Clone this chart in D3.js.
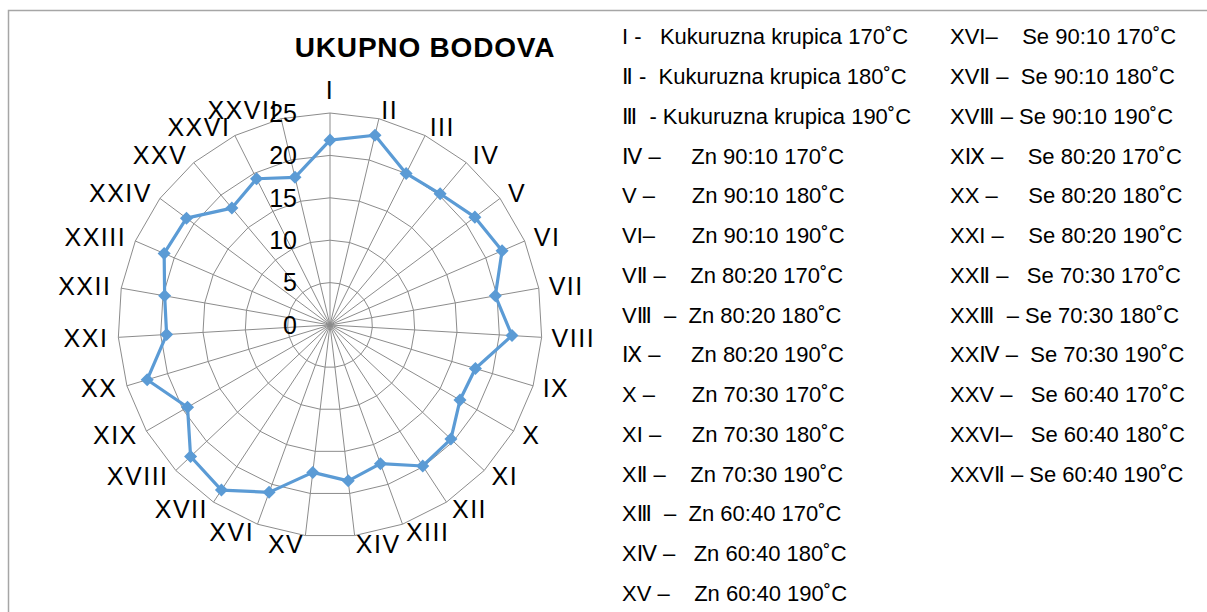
<!DOCTYPE html>
<html>
<head>
<meta charset="utf-8">
<script src="https://cdn.jsdelivr.net/npm/d3@7/dist/d3.min.js"></script>
<style>
  body { margin: 0; background: #fff; }
  svg { display: block; font-family: "Liberation Sans", Arial, "DejaVu Sans", sans-serif; }
</style>
</head>
<body>
<svg id="chart" width="1207" height="612"></svg>
<script>
// kategorije (osi radara)
const categories = ["I", "II", "III", "IV", "V", "VI", "VII", "VIII", "IX", "X",
  "XI", "XII", "XIII", "XIV", "XV", "XVI", "XVII", "XVIII", "XIX", "XX",
  "XXI", "XXII", "XXIII", "XXIV", "XXV", "XXVI", "XXVII"]
// ukupno bodova po uzorku
const values = [21.8, 23.0, 20.0, 20.2, 21.3, 22.1, 19.8, 21.5, 17.9, 17.7,
  19.6, 19.9, 17.4, 18.5, 17.5, 21.0, 23.3, 22.6, 19.4, 22.5,
  19.3, 19.8, 21.3, 21.1, 18.0, 19.3, 17.9]
const ticks = [0, 5, 10, 15, 20, 25]
const legendLeft = [
  "I -   Kukuruzna krupica 170˚C",
  "Ⅱ -  Kukuruzna krupica 180˚C",
  "Ⅲ  - Kukuruzna krupica 190˚C",
  "Ⅳ –     Zn 90:10 170˚C",
  "V –      Zn 90:10 180˚C",
  "VI–      Zn 90:10 190˚C",
  "VⅡ –    Zn 80:20 170˚C",
  "VⅢ  –  Zn 80:20 180˚C",
  "Ⅸ –     Zn 80:20 190˚C",
  "X –      Zn 70:30 170˚C",
  "XI –     Zn 70:30 180˚C",
  "XⅡ –    Zn 70:30 190˚C",
  "XⅢ  –  Zn 60:40 170˚C",
  "XⅣ –   Zn 60:40 180˚C",
  "XV –    Zn 60:40 190˚C"
]
const legendRight = [
  "XVI–    Se 90:10 170˚C",
  "XVⅡ –  Se 90:10 180˚C",
  "XVⅢ – Se 90:10 190˚C",
  "XⅨ –    Se 80:20 170˚C",
  "XX –     Se 80:20 180˚C",
  "XXI –    Se 80:20 190˚C",
  "XXⅡ –   Se 70:30 170˚C",
  "XXⅢ  – Se 70:30 180˚C",
  "XXⅣ –  Se 70:30 190˚C",
  "XXV –   Se 60:40 170˚C",
  "XXVI–   Se 60:40 180˚C",
  "XXVⅡ – Se 60:40 190˚C"
]

let svg = d3.select("#chart")
const cx = 330, cy = 325, R = 212
const step = 2 * Math.PI / categories.length
const gridColor = "#8c8c8c"
const lineColor = "#5b9bd5"

// okvir
svg.append("path")
  .attr("d", "M8.5,612 L8.5,10.5 L1207,10.5")
  .attr("fill", "none")
  .attr("stroke", "#a6a6a6")
  .attr("stroke-width", 1.5)

// naslov
svg.append("text")
  .attr("x", 425)
  .attr("y", 57)
  .attr("text-anchor", "middle")
  .attr("font-size", "28px")
  .attr("font-weight", "bold")
  .attr("letter-spacing", "0.8px")
  .text("UKUPNO BODOVA")

let r = d3.scaleLinear().domain([0, d3.max(ticks)]).range([0, R])
let pane = svg.append("g").attr("transform", `translate(${cx}, ${cy})`)

// mreža
let ring = d3.lineRadial()
  .angle((d, i) => i * step)
  .radius(d => r(d))
  .curve(d3.curveLinearClosed)
pane.selectAll(".ring")
  .data(ticks.filter(t => t > 0))
  .enter()
  .append("path")
  .classed("ring", true)
  .attr("d", t => ring(categories.map(() => t)))
  .attr("fill", "none")
  .attr("stroke", gridColor)
  .attr("stroke-width", 1)
pane.selectAll(".spoke")
  .data(categories)
  .enter()
  .append("line")
  .classed("spoke", true)
  .attr("x1", 0)
  .attr("y1", 0)
  .attr("x2", (d, i) => d3.pointRadial(i * step, R)[0])
  .attr("y2", (d, i) => d3.pointRadial(i * step, R)[1])
  .attr("stroke", gridColor)
  .attr("stroke-width", 1)

// oznake skale
pane.selectAll(".tick")
  .data(ticks)
  .enter()
  .append("text")
  .classed("tick", true)
  .attr("x", -33)
  .attr("y", d => -r(d))
  .attr("dy", "0.35em")
  .attr("text-anchor", "end")
  .attr("font-size", "25px")
  .attr("fill", "#000")
  .text(d => d)

// nazivi osi
pane.selectAll(".cat")
  .data(categories)
  .enter()
  .append("text")
  .classed("cat", true)
  .attr("x", (d, i) => Math.sin(i * step) * (R + 10))
  .attr("y", (d, i) => {
    let s = Math.sin(i * step)
    if (Math.abs(s) < 0.01) return -Math.cos(i * step) * (R + 9) - 14
    return -Math.cos(i * step) * (R + 9)
  })
  .attr("dy", "0.35em")
  .attr("text-anchor", (d, i) => {
    let s = Math.sin(i * step)
    return s > 0.01 ? "start" : s < -0.01 ? "end" : "middle"
  })
  .attr("font-size", "25px")
  .attr("letter-spacing", "1.5px")
  .text(d => d)

// serija
let line = d3.lineRadial()
  .angle((d, i) => i * step)
  .radius(d => r(d))
  .curve(d3.curveLinearClosed)
pane.append("path")
  .attr("d", line(values))
  .attr("fill", "none")
  .attr("stroke", lineColor)
  .attr("stroke-width", 3.2)
  .attr("stroke-linejoin", "round")
pane.selectAll(".marker")
  .data(values)
  .enter()
  .append("path")
  .classed("marker", true)
  .attr("d", d3.symbol(d3.symbolSquare, 85))
  .attr("transform", (d, i) => {
    let p = d3.pointRadial(i * step, r(d))
    return `translate(${p[0]}, ${p[1]}) rotate(45)`
  })
  .attr("fill", lineColor)

// legenda
function drawLegend(items, x0) {
  svg.append("g")
    .selectAll("text")
    .data(items)
    .enter()
    .append("text")
    .attr("x", x0)
    .attr("y", (d, i) => 36.7 + i * 39.75)
    .attr("dy", "0.35em")
    .attr("font-size", "22px")
    .style("white-space", "pre")
    .text(d => d)
}
drawLegend(legendLeft, 622)
drawLegend(legendRight, 950)
</script>
</body>
</html>
